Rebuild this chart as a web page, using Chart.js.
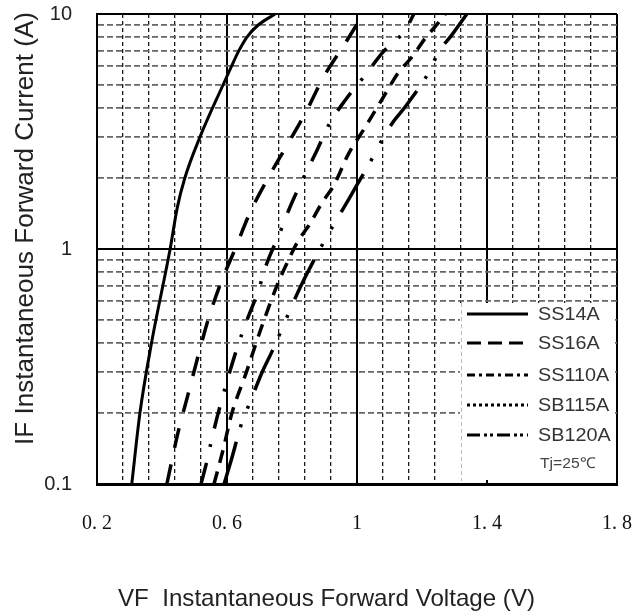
<!DOCTYPE html>
<html><head><meta charset="utf-8">
<script src="https://cdn.jsdelivr.net/npm/chart.js@4.4.1/dist/chart.umd.min.js"></script>
<style>html,body{margin:0;padding:0;background:#fff;}canvas{display:block;}</style>
</head><body>
<canvas id="c" width="636" height="616"></canvas>
<script>
// ---- data ----
const ss14aV = [0.307, 0.332, 0.368, 0.425, 0.447, 0.470, 0.517, 0.588, 0.614, 0.637, 0.662, 0.697, 0.748];
const ss14aI = [0.1, 0.2, 0.4, 1.0, 1.5, 2.0, 3.0, 5.0, 6.0, 7.0, 8.0, 9.0, 10];

const ss16aV = [0.415, 0.449, 0.480, 0.511, 0.542, 0.578, 0.625, 0.671, 0.726, 0.785, 0.846, 0.895, 0.962, 1.020];
const ss16aI = [0.1, 0.165, 0.24, 0.35, 0.5, 0.7, 1.0, 1.43, 2.0, 2.77, 3.9, 5.33, 7.45, 10];

const ss110aV = [0.520, 0.535, 0.554, 0.578, 0.631, 0.662, 0.695, 0.723, 0.760, 0.794, 0.834, 0.874, 0.914, 0.966, 1.025, 1.080, 1.148, 1.175];
const ss110aI = [0.1, 0.12, 0.157, 0.213, 0.379, 0.5, 0.657, 0.872, 1.15, 1.51, 1.99, 2.58, 3.39, 4.34, 5.49, 6.88, 8.53, 10];

const sb115aV = [0.560, 0.588, 0.615, 0.660, 0.705, 0.754, 0.782, 0.815, 0.855, 0.892, 0.929, 0.975, 1.018, 1.055, 1.089, 1.126, 1.169, 1.209, 1.252, 1.272];
const sb115aI = [0.1, 0.14, 0.2, 0.3, 0.46, 0.7, 0.855, 1.06, 1.28, 1.57, 1.87, 2.56, 3.18, 3.86, 4.62, 5.6, 6.56, 7.85, 9.23, 10];

const sb120aV = [0.591, 0.612, 0.646, 0.671, 0.708, 0.738, 0.825, 0.886, 0.978, 1.049, 1.077, 1.111, 1.148, 1.225, 1.249, 1.292, 1.338];
const sb120aI = [0.1, 0.125, 0.183, 0.223, 0.299, 0.365, 0.686, 1.0, 1.66, 2.46, 2.91, 3.47, 4.02, 5.78, 6.82, 8.15, 10];

const seriesNames = ['SS14A', 'SS16A', 'SS110A', 'SB115A', 'SB120A'];
const noteText = 'Tj=25℃';

const xGridValues = [0.2,0.28,0.36,0.44,0.52,0.6,0.68,0.76,0.84,0.92,1.0,1.08,1.16,1.24,1.32,1.4,1.48,1.56,1.64,1.72,1.8];
const xMajorValues = [0.2, 0.6, 1.0, 1.4, 1.8];
const xTickLabels = ['0. 2', '0. 6', '1', '1. 4', '1. 8'];

const yGridValues = [0.1,0.2,0.3,0.4,0.5,0.6,0.7,0.8,0.9,1,2,3,4,5,6,7,8,9,10];
const yMajorValues = [0.1, 1, 10];
const yTickLabels = ['0.1', '1', '10'];

const xTitleText = 'VF  Instantaneous Forward Voltage (V)';
const yTitleText = 'IF Instantaneous Forward Current (A)';

// ---- helpers ----
function majorIndex(v, majors) {
  for (let i = 0; i < majors.length; i++) {
    if (Math.abs(v - majors[i]) < 1e-6 * Math.max(1, majors[i])) return i;
  }
  return -1;
}
function pts(vs, is) { return vs.map((v, k) => ({x: v, y: is[k]})); }

const plotDash = [[], [20, 17], [22, 16, 3, 16], [13, 9], [44, 15, 3, 17, 3, 17]];
const plotWidth = [3, 3.5, 3.5, 3.5, 3.5];
const legendDash = [[], [14, 7], [8, 4, 3, 4], [3, 3], [13, 4, 3, 3, 3, 4]];
const seriesData = [pts(ss14aV, ss14aI), pts(ss16aV, ss16aI), pts(ss110aV, ss110aI), pts(sb115aV, sb115aI), pts(sb120aV, sb120aI)];

const datasets = seriesNames.map((n, i) => ({
  label: n,
  data: seriesData[i],
  showLine: true,
  borderColor: '#000',
  borderWidth: plotWidth[i],
  borderDash: plotDash[i],
  borderCapStyle: 'butt',
  pointRadius: 0,
  cubicInterpolationMode: 'monotone',
  fill: false
}));

function drawScaledText(ctx, text, x, y, sx) {
  ctx.save();
  ctx.translate(x, y);
  ctx.scale(sx, 1);
  ctx.fillText(text, 0, 0);
  ctx.restore();
}

const legendPlugin = {
  id: 'legendBox',
  beforeDatasetsDraw(chart) {
    const {ctx, chartArea, scales} = chart;
    const left = Math.round(scales.x.getPixelForValue(1.32));
    const top = Math.round(scales.y.getPixelForValue(0.6));
    ctx.save();
    ctx.fillStyle = '#fff';
    ctx.fillRect(left - 1, top + 2, chartArea.right - 2 - (left - 1), chartArea.bottom - 4 - (top + 2));
    ctx.strokeStyle = '#bbb';
    ctx.lineWidth = 1;
    ctx.setLineDash([4, 3]);
    ctx.beginPath();
    ctx.moveTo(left + 0.5, top + 2);
    ctx.lineTo(left + 0.5, chartArea.bottom - 3);
    ctx.stroke();
    const rows = [13, 42, 74, 104, 134];
    ctx.strokeStyle = '#000';
    ctx.lineWidth = 3;
    ctx.lineCap = 'butt';
    rows.forEach((ry, i) => {
      ctx.setLineDash(legendDash[i]);
      ctx.beginPath();
      ctx.moveTo(left + 6, top + ry);
      ctx.lineTo(left + 67, top + ry);
      ctx.stroke();
    });
    ctx.setLineDash([]);
    ctx.fillStyle = '#333';
    ctx.textAlign = 'left';
    ctx.textBaseline = 'middle';
    ctx.font = '18px "Liberation Sans", Arial, sans-serif';
    rows.forEach((ry, i) => drawScaledText(ctx, seriesNames[i], left + 77, top + ry + 1, 1.1));
    ctx.fillStyle = '#444';
    ctx.font = '15px "Liberation Sans", Arial, sans-serif';
    drawScaledText(ctx, noteText, left + 79, top + 163, 1.05);
    ctx.restore();
  }
};

const titlePlugin = {
  id: 'axisTitles',
  afterDraw(chart) {
    const ctx = chart.ctx;
    ctx.save();
    ctx.fillStyle = '#222';
    ctx.textAlign = 'left';
    ctx.textBaseline = 'alphabetic';
    ctx.font = '24px "Liberation Sans", Arial, sans-serif';
    let w = ctx.measureText(xTitleText).width;
    drawScaledText(ctx, xTitleText, 118, 606, 417 / w);
    ctx.font = '26px "Liberation Sans", Arial, sans-serif';
    w = ctx.measureText(yTitleText).width;
    ctx.translate(33, 445);
    ctx.rotate(-Math.PI / 2);
    ctx.scale(433 / w, 1);
    ctx.fillText(yTitleText, 0, 0);
    ctx.restore();
  }
};

Chart.defaults.font.family = '"Liberation Sans", Arial, sans-serif';

new Chart(document.getElementById('c'), {
  type: 'scatter',
  data: {datasets},
  plugins: [legendPlugin, titlePlugin],
  options: {
    responsive: false,
    animation: false,
    layout: {padding: {left: 0, top: 14, right: 19, bottom: 0}},
    plugins: {legend: {display: false}, tooltip: {enabled: false}},
    scales: {
      x: {
        type: 'linear',
        min: 0.2, max: 1.8,
        afterFit(s) { s.height = 132; s.paddingLeft = 0; s.paddingRight = 0; },
        afterBuildTicks(s) { s.ticks = xGridValues.map(v => ({value: v})); },
        ticks: {
          autoSkip: false, maxRotation: 0, padding: 28,
          color: '#111',
          font: {family: '"Liberation Serif", "DejaVu Serif", serif', size: 20},
          callback(v) { const k = majorIndex(v, xMajorValues); return k >= 0 ? xTickLabels[k] : ''; }
        },
        grid: {
          drawTicks: false,
          color: c => (c.tick && majorIndex(c.tick.value, xMajorValues) >= 0) ? '#000' : '#1a1a1a',
          lineWidth: c => (c.tick && majorIndex(c.tick.value, xMajorValues) >= 0) ? 2 : 1.3
        },
        border: {
          display: true, color: '#000', width: 3,
          dash: c => (c.tick && majorIndex(c.tick.value, xMajorValues) < 0) ? [4, 3] : []
        }
      },
      y: {
        type: 'logarithmic',
        min: 0.1, max: 10,
        afterFit(s) { s.width = 97; s.paddingTop = 0; s.paddingBottom = 0; },
        afterBuildTicks(s) { s.ticks = yGridValues.map(v => ({value: v})); },
        ticks: {
          autoSkip: false, padding: 25,
          color: '#222',
          font: {size: 20},
          callback(v) { const k = majorIndex(v, yMajorValues); return k >= 0 ? yTickLabels[k] : ''; }
        },
        grid: {
          drawTicks: false,
          color: c => (c.tick && majorIndex(c.tick.value, yMajorValues) >= 0) ? '#000' : '#666',
          lineWidth: c => (c.tick && majorIndex(c.tick.value, yMajorValues) >= 0) ? 2 : 1.7
        },
        border: {
          display: true, color: '#000', width: 2,
          dash: c => (c.tick && majorIndex(c.tick.value, yMajorValues) < 0) ? [6, 3] : []
        }
      }
    }
  }
});
</script>
</body></html>
